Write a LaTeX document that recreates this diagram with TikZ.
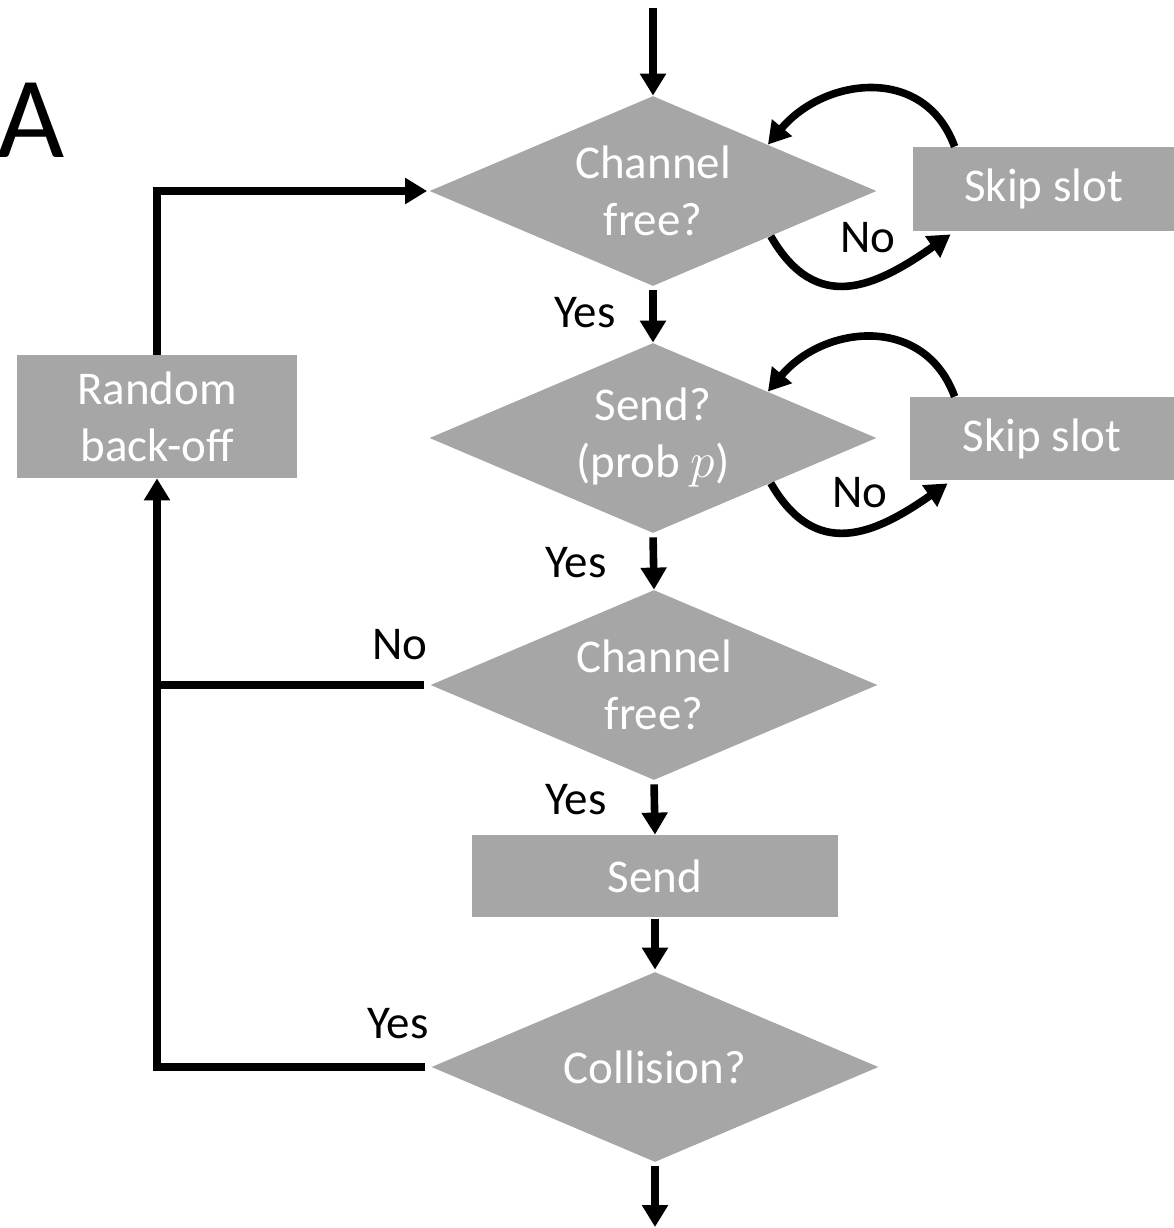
\documentclass[tikz,border=0pt]{standalone}
\usepackage{fontspec}
\setmainfont{Carlito}
\usetikzlibrary{shapes.geometric,arrows.meta,calc}

\definecolor{boxgray}{HTML}{A6A6A6}
\newcommand{\flowfont}{\fontsize{23.5}{28.5}\selectfont}

\tikzset{
  decision/.style={diamond, shape aspect=2.35, fill=boxgray, text=white, minimum width=223.5pt, minimum height=95pt, inner sep=0pt, align=center, font=\flowfont},
  block/.style={rectangle, fill=boxgray, text=white, inner sep=0pt, align=center, font=\flowfont},
  flow/.style={line width=3.8pt, -{Triangle[width=12.5pt,length=11pt]}},
  plain/.style={line width=3.8pt},
  tag/.style={font=\flowfont, text=black, inner sep=0pt},
}

\begin{document}
\begin{tikzpicture}[x=0.5pt,y=-0.5pt]
        \useasboundingbox (0,0) rectangle (1174,1228);

        % shapes
        \node[decision] (d1) at (653,191) {Channel\\free?};
        \node[decision] (d2) at (653,438) {Send?\\(prob $p$)};
        \node[decision] (d3) at (654,685) {Channel\\free?};
        \node[block, minimum width=183pt, minimum height=41pt] (send) at (655,876) {Send};
        \node[decision] (d4) at (655,1067) {Collision?};
        \node[block, minimum width=130.5pt, minimum height=42pt] (s1) at (1043.5,189) {Skip slot};
        \node[block, minimum width=132pt, minimum height=41.5pt] (s2) at (1042,438.5) {Skip slot};
        \node[block, minimum width=140pt, minimum height=61.5pt] (rb) at (157,416.5) {Random\\back-off};
        \coordinate (entry) at (653,8);
        \coordinate (exit) at (655,1227);

        % main line
        \draw[flow] (entry) -- (d1.north);
        \draw[flow, shorten <=2pt] (d1.south) -- (d2.north);
        \draw[flow, shorten <=2pt] (d2.south) -- (d3.north);
        \draw[flow, shorten <=2pt] (d3.south) -- (send.north);
        \draw[flow, shorten <=1pt, shorten >=1pt] (send.south) -- (d4.north);
        \draw[flow, shorten <=2pt] (d4.south) -- (exit);

        % back-off loop
        \draw[flow, shorten <=3pt] (d4.west) -| (rb.south);
        \draw[plain, shorten <=3pt] (d3.west) -- (d3.west -| rb.south);
        \draw[flow, shorten >=1pt] (rb.north) |- (d1.west);

        % skip slot loops
        \draw[flow] (d1.-21) to[out=-60,in=-145,looseness=1.3] ($(s1.south west)+(38,3)$);
        \draw[flow] ($(s1.north west)+(42,0)$) to[out=110,in=50,looseness=1.2] (d1.22);
        \draw[flow] (d2.-21) to[out=-60,in=-145,looseness=1.3] ($(s2.south west)+(38,3)$);
        \draw[flow] ($(s2.north west)+(45,0)$) to[out=110,in=50,looseness=1.2] (d2.22);

        % labels
        \node[tag] (no1) at (868,238) {No};
        \node[tag] (no2) at (860,493) {No};
        \node[tag] (no3) at (400,645) {No};
        \node[tag] (yes1) at (585,313) {Yes};
        \node[tag] (yes2) at (576,563) {Yes};
        \node[tag] (yes3) at (576,800) {Yes};
        \node[tag] (yes4) at (398,1024) {Yes};
        \node[inner sep=0pt, anchor=west, font=\fontsize{58}{60}\selectfont] (panel) at (-3,120) {A};
\end{tikzpicture}
\end{document}
